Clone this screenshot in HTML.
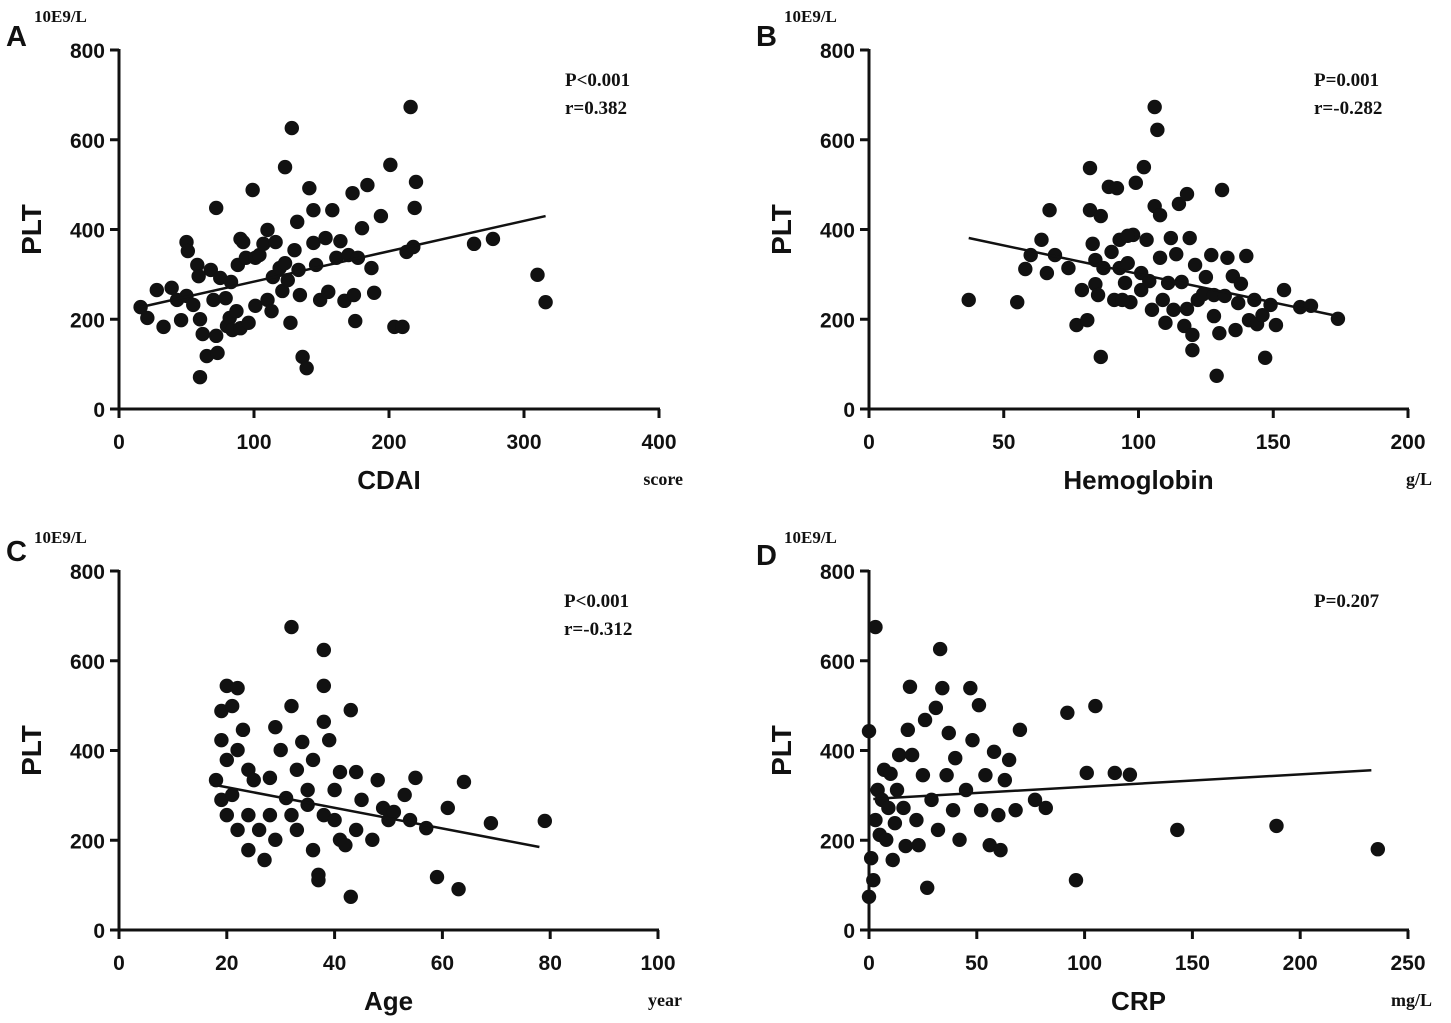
<!DOCTYPE html>
<html><head><meta charset="utf-8"><style>
body{margin:0;background:#fff}
svg{display:block}
.t{font-family:"Liberation Sans",Arial,sans-serif;font-weight:bold;fill:#111}
.s{font-family:"Liberation Serif",serif;font-weight:bold;fill:#111}
</style></head><body>
<svg id="c" width="1451" height="1023" viewBox="0 0 1451 1023" xmlns="http://www.w3.org/2000/svg"></svg>
<script>
const aX=[16,21,28,33,39,43,46,50,51,50,55,58,59,60,62,60,65,68,70,72,72,73,75,79,80,82,83,84,87,88,90,90,92,94,96,99,101,101,104,107,110,110,113,114,116,119,121,123,123,125,127,128,130,132,133,134,136,139,141,144,144,146,149,153,155,158,161,164,167,170,173,174,175,177,180,184,187,189,194,201,204,210,213,216,218,219,220,263,277,310,316];
const aY=[227,203,265,183,270,243,198,372,352,252,232,321,296,200,167,71,118,310,243,448,163,125,292,247,185,203,283,176,218,321,379,180,372,337,192,488,337,230,343,368,243,399,218,294,372,314,263,539,325,287,192,626,354,417,310,254,116,91,492,443,370,321,243,381,261,443,337,374,241,343,481,254,196,337,403,499,314,259,430,544,183,183,350,673,361,448,506,368,379,299,238];
const bX=[37,55,58,60,64,66,67,69,74,77,79,81,84,82,82,83,84,85,86,86,87,89,90,91,92,93,93,95,96,97,98,99,101,101,102,103,104,105,106,106,107,108,108,109,110,111,112,113,114,115,116,117,118,118,119,120,120,121,122,124,125,127,128,128,129,130,131,132,133,135,136,137,138,140,141,143,144,146,147,149,151,154,160,164,174,94,96];
const bY=[243,238,312,343,377,303,443,343,314,187,265,198,278,537,443,368,332,254,116,430,314,495,350,243,492,377,314,281,325,238,388,504,265,303,539,377,285,221,452,673,622,432,337,243,192,281,381,221,345,457,283,185,479,223,381,131,165,321,243,256,294,343,207,254,74,169,488,252,337,296,176,236,279,341,198,243,189,209,114,232,187,265,227,230,201,243,386];
const cX=[19,20,21,19,20,18,19,20,22,22,23,22,24,21,24,24,25,26,27,28,28,29,29,30,31,32,32,32,33,33,34,35,35,36,36,37,37,38,38,38,38,39,40,40,41,41,42,43,43,44,44,45,47,48,49,50,51,53,54,55,57,59,61,63,64,69,79];
const cY=[488,544,499,423,379,334,290,256,223,539,446,401,357,301,256,178,334,223,156,339,256,452,201,401,294,499,675,256,357,223,419,312,279,379,178,123,111,464,256,624,544,423,312,245,201,352,189,74,490,352,223,290,201,334,272,245,263,301,245,339,227,118,272,91,330,238,243];
const dX=[0,0,2,3,1,3,4,5,6,7,8,9,10,11,12,13,14,16,17,18,19,20,22,23,25,26,27,29,31,32,33,34,36,37,39,40,42,45,47,48,51,52,54,56,58,60,61,63,65,68,70,77,82,92,96,105,114,121,101,143,189,236];
const dY=[74,443,111,675,160,245,312,212,290,357,201,272,348,156,238,312,390,272,187,446,542,390,245,189,345,468,94,290,495,223,626,539,345,439,267,383,201,312,539,423,501,267,345,189,397,256,178,334,379,267,446,290,272,484,111,499,350,346,350,223,232,180];
const lineA=[16,227,316,430], lineB=[37,381,174,207], lineC=[17,325,78,185], lineD=[2,292,233,356];
const yTicks=[0,200,400,600,800];
const svg=document.getElementById('c');
const NS='http://www.w3.org/2000/svg';
function el(tag,attrs,parent,text){const e=document.createElementNS(NS,tag);for(const k in attrs)e.setAttribute(k,attrs[k]);if(text!==undefined)e.textContent=text;(parent||svg).appendChild(e);return e;}
function panel(p){
  const g=el('g',{});
  
  
  const sx=v=>p.x0+(v-p.xmin)/(p.xmax-p.xmin)*(p.x1-p.x0);
  const sy=v=>p.y0-(v/800)*(p.y0-p.y1);
  let t=el('text',{x:p.x0-113,y:p.y1-p.ld,'class':'t','font-size':29},g,p.letter);
  
  t=el('text',{x:p.x0-85,y:p.y1-28,'class':'s','font-size':17},g,'10E9/L');
  
  t=el('text',{x:p.x0-78,y:(p.y0+p.y1)/2,'class':'t','font-size':28,'text-anchor':'middle',transform:`rotate(-90 ${p.x0-78} ${(p.y0+p.y1)/2})`},g,'PLT');
  
  el('line',{x1:p.x0,y1:p.y1-1,x2:p.x0,y2:p.y0+1.5,stroke:'#111','stroke-width':3},g);
  el('line',{x1:p.x0-1.5,y1:p.y0,x2:p.x1+1,y2:p.y0,stroke:'#111','stroke-width':3},g);
  yTicks.forEach(v=>{
    el('line',{x1:p.x0-9,y1:sy(v),x2:p.x0,y2:sy(v),stroke:'#111','stroke-width':3},g);
    const tt=el('text',{x:p.x0-14,y:sy(v)+8,'class':'t','font-size':21,'text-anchor':'end'},g,String(v));
    
  });
  p.xt.forEach(v=>{
    el('line',{x1:sx(v),y1:p.y0,x2:sx(v),y2:p.y0+9,stroke:'#111','stroke-width':3},g);
    const tt=el('text',{x:sx(v),y:p.y0+40,'class':'t','font-size':21,'text-anchor':'middle'},g,String(v));
    
  });
  t=el('text',{x:(p.x0+p.x1)/2,y:p.y0+80,'class':'t','font-size':26,'text-anchor':'middle'},g,p.title);
  
  t=el('text',{x:p.x1+24,y:p.y0+76,'class':'s','font-size':18,'text-anchor':'end'},g,p.unit);
  
  p.stats.forEach((s,i)=>{
    const st=el('text',{x:p.x1-94,y:p.y1+36+i*28,'class':'s','font-size':19},g,s);
    
  });
  p.xs.forEach((v,i)=>{
    const c=el('circle',{cx:sx(v),cy:sy(p.ys[i]),r:7.2,fill:'#111'},g);
    
    
  });
  const L=p.line;
  const ln=el('line',{x1:sx(L[0]),y1:sy(L[1]),x2:sx(L[2]),y2:sy(L[3]),stroke:'#111','stroke-width':2.5},g);
  
  
}
panel({letter:'A',ld:4,x0:119,x1:659,y0:409,y1:50,xmin:0,xmax:400,xt:[0,100,200,300,400],title:'CDAI',unit:'score',stats:['P<0.001','r=0.382'],xs:aX,ys:aY,line:lineA});
panel({letter:'B',ld:4,x0:869,x1:1408,y0:409,y1:50,xmin:0,xmax:200,xt:[0,50,100,150,200],title:'Hemoglobin',unit:'g/L',stats:['P=0.001','r=-0.282'],xs:bX,ys:bY,line:lineB});
panel({letter:'C',ld:10,x0:119,x1:658,y0:930,y1:571,xmin:0,xmax:100,xt:[0,20,40,60,80,100],title:'Age',unit:'year',stats:['P<0.001','r=-0.312'],xs:cX,ys:cY,line:lineC});
panel({letter:'D',ld:6,x0:869,x1:1408,y0:930,y1:571,xmin:0,xmax:250,xt:[0,50,100,150,200,250],title:'CRP',unit:'mg/L',stats:['P=0.207'],xs:dX,ys:dY,line:lineD});
</script>
</body></html>
